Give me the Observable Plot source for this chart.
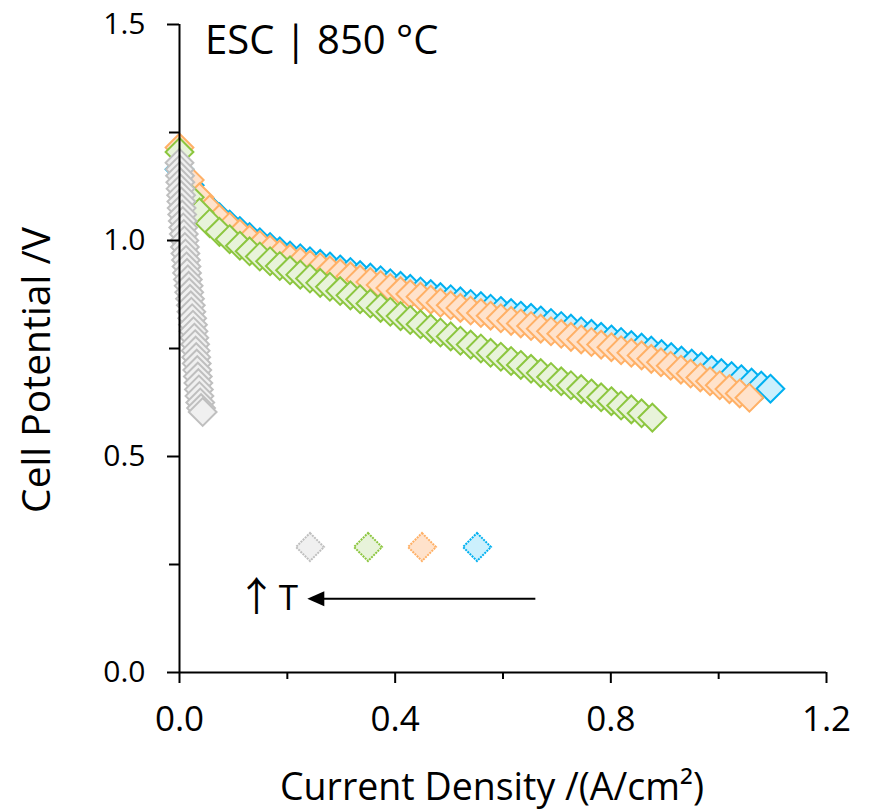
<!DOCTYPE html>
<html><head><meta charset="utf-8">
<script src="https://cdn.jsdelivr.net/npm/d3@7"></script>
<script src="https://cdn.jsdelivr.net/npm/@observablehq/plot@0.6"></script>
<style>
body{margin:0;background:#fff;}
#wrap{position:relative;width:870px;height:812px;}
.lg{position:absolute;top:531px;width:32px;height:32px;}
</style></head><body><div id="wrap"></div>
<script>
// ---- data (Current Density A/cm², Cell Potential V) ----
const blue = [[0.000,1.165],[0.019,1.128],[0.037,1.098],[0.056,1.074],[0.074,1.054],[0.093,1.037],[0.112,1.022],[0.130,1.008],[0.149,0.996],[0.168,0.985],[0.186,0.975],[0.205,0.965],[0.224,0.959],[0.242,0.952],[0.261,0.946],[0.279,0.940],[0.298,0.933],[0.317,0.927],[0.335,0.920],[0.354,0.914],[0.373,0.908],[0.391,0.901],[0.410,0.895],[0.428,0.888],[0.447,0.882],[0.466,0.876],[0.484,0.869],[0.503,0.864],[0.521,0.859],[0.540,0.853],[0.559,0.848],[0.577,0.842],[0.596,0.837],[0.615,0.832],[0.633,0.826],[0.652,0.821],[0.670,0.815],[0.689,0.809],[0.708,0.802],[0.726,0.796],[0.745,0.790],[0.764,0.784],[0.782,0.777],[0.801,0.771],[0.819,0.765],[0.838,0.758],[0.857,0.752],[0.875,0.745],[0.894,0.737],[0.912,0.730],[0.931,0.722],[0.950,0.715],[0.968,0.708],[0.987,0.700],[1.005,0.693],[1.024,0.686],[1.042,0.679],[1.061,0.671],[1.079,0.664],[1.096,0.657]];
const orange = [[0.000,1.215],[0.019,1.140],[0.037,1.100],[0.056,1.072],[0.074,1.050],[0.093,1.032],[0.112,1.016],[0.130,1.002],[0.149,0.990],[0.168,0.979],[0.186,0.968],[0.205,0.958],[0.224,0.951],[0.242,0.944],[0.261,0.938],[0.279,0.931],[0.298,0.924],[0.317,0.917],[0.335,0.910],[0.354,0.904],[0.373,0.897],[0.391,0.890],[0.410,0.883],[0.428,0.876],[0.447,0.870],[0.466,0.863],[0.484,0.856],[0.503,0.850],[0.521,0.844],[0.540,0.838],[0.559,0.832],[0.577,0.826],[0.596,0.820],[0.615,0.814],[0.633,0.808],[0.652,0.802],[0.670,0.796],[0.689,0.790],[0.708,0.784],[0.726,0.777],[0.745,0.771],[0.764,0.765],[0.782,0.759],[0.801,0.753],[0.819,0.746],[0.838,0.740],[0.857,0.734],[0.875,0.726],[0.893,0.718],[0.911,0.710],[0.930,0.701],[0.948,0.692],[0.966,0.683],[0.984,0.674],[1.002,0.665],[1.020,0.656],[1.039,0.646],[1.057,0.636]];
const green = [[0.000,1.205],[0.019,1.100],[0.037,1.065],[0.056,1.040],[0.074,1.020],[0.093,1.003],[0.112,0.988],[0.130,0.975],[0.149,0.963],[0.168,0.952],[0.186,0.941],[0.205,0.931],[0.224,0.921],[0.242,0.912],[0.261,0.902],[0.279,0.893],[0.298,0.883],[0.317,0.873],[0.335,0.864],[0.354,0.854],[0.373,0.844],[0.391,0.835],[0.410,0.825],[0.428,0.816],[0.447,0.806],[0.466,0.796],[0.484,0.787],[0.503,0.778],[0.521,0.768],[0.540,0.759],[0.559,0.750],[0.577,0.740],[0.596,0.731],[0.615,0.721],[0.633,0.712],[0.652,0.703],[0.670,0.693],[0.689,0.684],[0.708,0.674],[0.726,0.665],[0.745,0.656],[0.764,0.646],[0.782,0.637],[0.801,0.628],[0.819,0.618],[0.838,0.609],[0.857,0.600],[0.877,0.590]];
const gray = [[0.000,1.180],[0.0005,1.165],[0.001,1.150],[0.0015,1.135],[0.002,1.120],[0.003,1.105],[0.0035,1.090],[0.004,1.075],[0.005,1.060],[0.006,1.045],[0.007,1.030],[0.008,1.015],[0.009,1.000],[0.010,0.985],[0.011,0.970],[0.012,0.955],[0.013,0.940],[0.014,0.925],[0.0155,0.910],[0.017,0.895],[0.018,0.880],[0.0195,0.865],[0.021,0.850],[0.022,0.835],[0.0235,0.820],[0.025,0.805],[0.026,0.790],[0.0275,0.775],[0.029,0.760],[0.030,0.745],[0.031,0.730],[0.032,0.715],[0.033,0.700],[0.034,0.685],[0.035,0.670],[0.036,0.655],[0.037,0.640],[0.0385,0.625],[0.040,0.612],[0.043,0.603]];

const seriesOrder = ["blue","orange","green","gray"];
const seriesData = {blue, orange, green, gray};
const strokeColors = {blue:"#00B0F0", orange:"#FFB066", green:"#8CC63F", gray:"#BFBFBF"};
const fillColors = {blue:"#CCF0FD", orange:"#FFE2CB", green:"#E8F3DA", gray:"#F0F0F0"};

const xMajorTicks = [0, 0.4, 0.8, 1.2];
const xMinorTicks = [0.2, 0.6, 1.0];
const yMajorTicks = [0, 0.5, 1.0, 1.5];
const yMinorTicks = [0.25, 0.75, 1.25];

const titleText = "ESC | 850 °C";
const xTitle = "Current Density /(A/cm²)";
const yTitle = "Cell Potential /V";
const arrowAnno = [{x1: 0.66, x2: 0.237, y: 0.171}];
const arrowUp = [{x: 0.143, y: 0.171, text: "↑"}];
const arrowT = [{x: 0.202, y: 0.171, text: "T"}];

const arrowHead = {draw(ctx) { ctx.moveTo(0, 0); ctx.lineTo(17, -7.5); ctx.lineTo(17, 7.5); ctx.closePath(); }};

const dotMarks = seriesOrder.map(s => Plot.dot(seriesData[s], {
  x: d => d[0], y: d => d[1], symbol: "diamond2", r: 12.5,
  fill: fillColors[s], stroke: strokeColors[s], strokeWidth: 2
}));

const plot = Plot.plot({
  width: 870, height: 812,
  marginLeft: 179, marginRight: 44, marginTop: 24, marginBottom: 140,
  x: {domain: [0, 1.2]},
  y: {domain: [0, 1.5]},
  style: {fontFamily: "'Open Sans', sans-serif", fontSize: "30px", color: "#000", background: "#fff", overflow: "visible"},
  marks: [
    ...dotMarks,
    Plot.ruleY([0], {strokeWidth: 2}),
    Plot.ruleX([0], {strokeWidth: 2}),
    Plot.axisX(xMajorTicks, {tickSize: 11, tickPadding: 23, strokeWidth: 2, tickFormat: d => d.toFixed(1), label: null, fontSize: 35}),
    Plot.axisX(xMinorTicks, {tickSize: 7, strokeWidth: 2, tickFormat: () => "", label: null}),
    Plot.axisY(yMajorTicks, {tickSize: 12, tickPadding: 22, strokeWidth: 2, tickFormat: d => d.toFixed(1), label: null, fontSize: 30}),
    Plot.axisY(yMinorTicks, {tickSize: 10, strokeWidth: 2, tickFormat: () => "", label: null}),
    Plot.link(arrowAnno, {x1: "x1", x2: d => d.x2 + 0.01, y1: "y", y2: "y", stroke: "#000", strokeWidth: 2}),
    Plot.dot(arrowAnno, {x: "x2", y: "y", symbol: arrowHead, r: 5, fill: "#000", stroke: null}),
    Plot.text(arrowUp, {x: "x", y: "y", text: "text", fontSize: 40, fontFamily: "'Noto Sans CJK SC', sans-serif", fill: "#000"}),
    Plot.text(arrowT, {x: "x", y: "y", text: "text", fontSize: 35, fill: "#000"})
  ]
});

const svg = d3.select(plot);
svg.append("text").attr("x", 205).attr("y", 54).attr("text-anchor", "start").attr("font-size", 40).attr("fill", "#000").text(titleText);
svg.append("text").attr("x", 492).attr("y", 800).attr("text-anchor", "middle").attr("font-size", 37.5).attr("fill", "#000").text(xTitle);
svg.append("text").attr("transform", "translate(50,370) rotate(-90)").attr("text-anchor", "middle").attr("font-size", 39).attr("fill", "#000").text(yTitle);

const wrap = document.getElementById("wrap");
wrap.appendChild(plot);

// legend (marker keys without labels, as in the original)
const legendOrder = ["gray","green","orange","blue"];
const legendLeft = [294, 352, 406, 461];
legendOrder.forEach((s, i) => {
  const d = document.createElement("div");
  d.className = "lg";
  d.style.left = legendLeft[i] + "px";
  d.innerHTML = `<svg width="32" height="32"><path d="M16,2 L30,16 L16,30 L2,16 Z" fill="${fillColors[s]}" stroke="${strokeColors[s]}" stroke-width="2" stroke-dasharray="2,1"/></svg>`;
  wrap.appendChild(d);
});
</script>
</body></html>
